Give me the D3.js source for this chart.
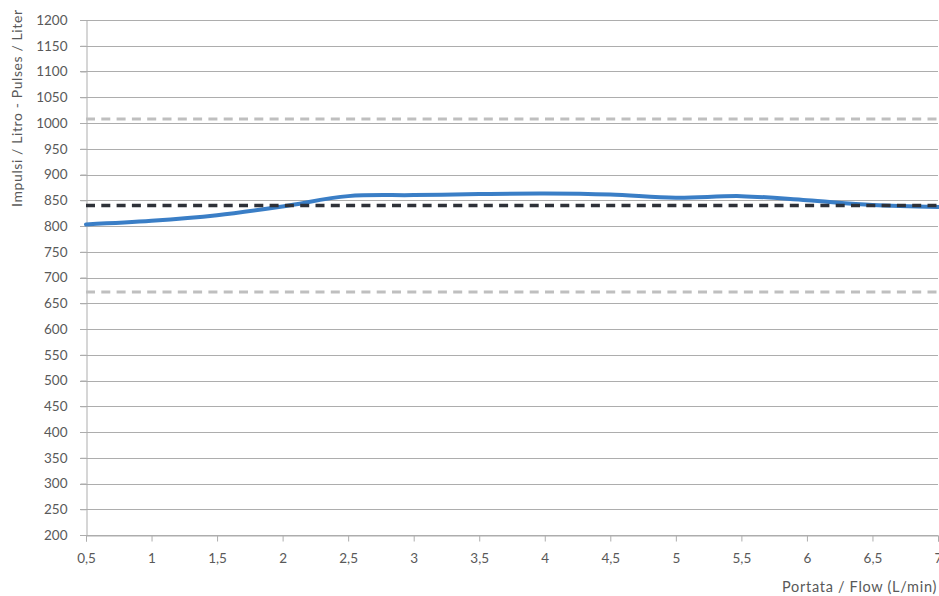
<!DOCTYPE html>
<html>
<head>
<meta charset="utf-8">
<script src="https://cdn.jsdelivr.net/npm/d3@7"></script>
<style>
  html, body { margin: 0; padding: 0; background: #fff; }
  svg { display: block; }
  text { font-family: "Lato", "DejaVu Sans", sans-serif; fill: #595959; }
</style>
</head>
<body>
<svg id="chart" width="939" height="596"></svg>
<script>
// ---- data ----
const flow = [0.5, 1, 1.5, 2, 2.5, 3, 3.5, 4, 4.5, 5, 5.5, 6, 6.5, 7];
const pulses = [803, 810, 821, 838, 858, 860, 862, 863, 861, 855, 858, 850, 841, 837];
const nominal = 840;
const upperLimit = 1008;
const lowerLimit = 672;
const xTicks = [0.5, 1, 1.5, 2, 2.5, 3, 3.5, 4, 4.5, 5, 5.5, 6, 6.5, 7];
const yTicks = d3.range(200, 1201, 50);
const yTitle = "Impulsi / Litro - Pulses / Liter";
const xTitle = "Portata / Flow (L/min)";

(function () {
// ---- layout ----
const svg = d3.select("#chart");
const pLeft = 86, pRight = 938, pTop = 20, pBottom = 535;

const x = d3.scaleLinear().domain([0.5, 7]).range([pLeft, pRight]);
const y = d3.scaleLinear().domain([200, 1200]).range([pBottom, pTop]);

const fmt = d => String(d).replace(".", ",");

// gridlines
svg.append("g")
  .selectAll("line")
  .data(yTicks)
  .join("line")
  .attr("x1", pLeft - 6).attr("x2", pRight)
  .attr("y1", d => Math.round(y(d)) + 0.5).attr("y2", d => Math.round(y(d)) + 0.5)
  .attr("stroke", "#adadad").attr("stroke-width", 1);

// y axis
const yAxis = svg.append("g")
  .attr("transform", `translate(${pLeft + 0.5},0)`)
  .call(d3.axisLeft(y).tickValues(yTicks).tickFormat(d => d).tickSize(6).tickPadding(13));
yAxis.select(".domain").attr("stroke", "#adadad");
yAxis.selectAll(".tick line").attr("stroke", "#adadad");
yAxis.selectAll("text").attr("font-size", "13.5px").attr("fill", "#595959")
  .style("font-family", "Lato, 'DejaVu Sans', sans-serif");

// x axis
const xAxis = svg.append("g")
  .attr("transform", `translate(0,${Math.round(pBottom) + 0.5})`)
  .call(d3.axisBottom(x).tickValues(xTicks).tickFormat(fmt).tickSize(6).tickPadding(12));
xAxis.select(".domain").attr("stroke", "#adadad");
xAxis.selectAll(".tick line").attr("stroke", "#adadad");
xAxis.selectAll("text").attr("font-size", "13.5px").attr("fill", "#595959")
  .style("font-family", "Lato, 'DejaVu Sans', sans-serif");

// measured curve
const line = d3.line()
  .x((d, i) => x(flow[i]))
  .y(d => y(d))
  .curve(d3.curveCatmullRom.alpha(0.5));

svg.append("path")
  .datum(pulses)
  .attr("fill", "none")
  .attr("stroke", "#3a7ec6")
  .attr("stroke-width", 4)
  .attr("stroke-linecap", "round")
  .attr("d", line);

// reference lines
const refs = [
  { v: upperLimit, c: "#bfbfbf", w: 3 },
  { v: lowerLimit, c: "#bfbfbf", w: 3 },
  { v: nominal, c: "#2e3138", w: 3.5 }
];
svg.append("g")
  .selectAll("line")
  .data(refs)
  .join("line")
  .attr("x1", pLeft).attr("x2", pRight)
  .attr("y1", d => y(d.v)).attr("y2", d => y(d.v))
  .attr("stroke", d => d.c)
  .attr("stroke-width", d => d.w)
  .attr("stroke-dasharray", "9,6.3")
  .attr("stroke-linecap", "butt");

// titles
svg.append("text")
  .attr("transform", `translate(22,207) rotate(-90)`)
  .attr("text-anchor", "start")
  .attr("font-size", "14px")
  .style("letter-spacing", "0.6px")
  .text(yTitle);

svg.append("text")
  .attr("x", 937).attr("y", 592)
  .attr("text-anchor", "end")
  .attr("font-size", "14.5px")
  .style("letter-spacing", "0.7px")
  .text(xTitle);
})();
</script>
</body>
</html>
